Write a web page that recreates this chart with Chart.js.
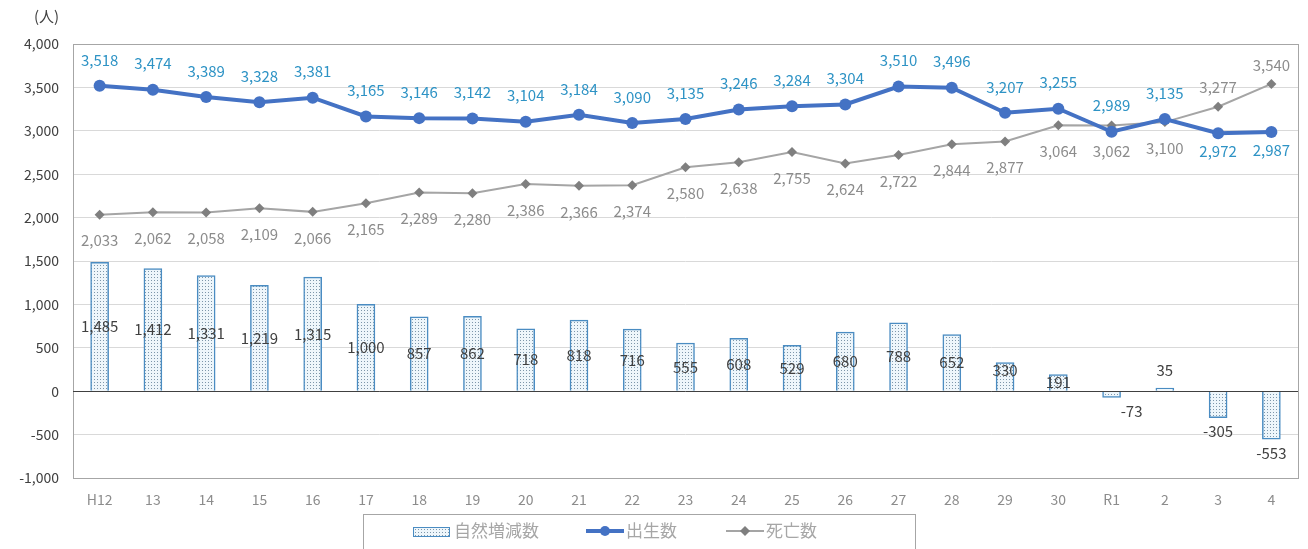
<!DOCTYPE html>
<html>
<head>
<meta charset="utf-8">
<script src="https://cdn.jsdelivr.net/npm/chart.js@4/dist/chart.umd.min.js"></script>
<style>
  html, body { margin: 0; padding: 0; background: #fff; }
  #wrap { width: 1308px; height: 549px; position: relative; }
</style>
</head>
<body>
<div id="wrap"><canvas id="chart"></canvas></div>
<script>
// 年度ラベル
const years = ['H12','13','14','15','16','17','18','19','20','21','22','23','24','25','26','27','28','29','30','R1','2','3','4'];
// 出生数
const births = [3518,3474,3389,3328,3381,3165,3146,3142,3104,3184,3090,3135,3246,3284,3304,3510,3496,3207,3255,2989,3135,2972,2987];
// 死亡数
const deaths = [2033,2062,2058,2109,2066,2165,2289,2280,2386,2366,2374,2580,2638,2755,2624,2722,2844,2877,3064,3062,3100,3277,3540];
// 自然増減数
const natural = [1485,1412,1331,1219,1315,1000,857,862,718,818,716,555,608,529,680,788,652,330,191,-73,35,-305,-553];

const FONT = "'Noto Sans CJK JP', 'Noto Sans', sans-serif";
const fmt = v => v.toLocaleString('en-US');

// dotted fill for the bars
function makePattern() {
    const c = document.createElement('canvas');
    c.width = 3; c.height = 3;
    const p = c.getContext('2d');
    p.fillStyle = '#eef6fb';
    p.fillRect(0, 0, 3, 3);
    p.fillStyle = '#7d96aa';
    p.fillRect(1, 1, 1, 1);
    return p.createPattern(c, 'repeat');
}
const pattern = makePattern();

// data labels
const labelPlugin = {
    id: 'labels',
    afterDatasetsDraw(chart) {
        const ctx = chart.ctx;
        ctx.save();
        ctx.font = '15px ' + FONT;
        ctx.textAlign = 'center';
        ctx.textBaseline = 'middle';

        // bars
        const barMeta = chart.getDatasetMeta(0);
        ctx.fillStyle = '#404040';
        barMeta.data.forEach((bar, i) => {
            const v = natural[i];
            let x = bar.x, y;
            if (v < 0) {
                y = bar.y + 14;
                if (v > -100) x += 20;
            } else if (v < 100) {
                y = bar.y - 18;
            } else if (v < 400) {
                y = bar.y + 8;
            } else {
                y = (bar.y + bar.base) / 2;
            }
            ctx.fillText(fmt(v), x, y);
        });

        // births
        const bMeta = chart.getDatasetMeta(1);
        ctx.fillStyle = '#2e93c5';
        bMeta.data.forEach((pt, i) => {
            const below = births[i] - deaths[i] < -100;
            ctx.fillText(fmt(births[i]), pt.x, below ? pt.y + 18 : pt.y - 26);
        });

        // deaths
        const dMeta = chart.getDatasetMeta(2);
        ctx.fillStyle = '#8c8c8c';
        dMeta.data.forEach((pt, i) => {
            const above = births[i] - deaths[i] < -100;
            ctx.fillText(fmt(deaths[i]), pt.x, above ? pt.y - 19 : pt.y + 26);
        });
        ctx.restore();
    },
    afterDraw(chart) {
        const ctx = chart.ctx;
        const a = chart.chartArea;
        ctx.save();
        // plot frame
        ctx.strokeStyle = '#a6a6a6';
        ctx.lineWidth = 1;
        ctx.strokeRect(a.left + 0.5, a.top + 0.5, a.right - a.left, a.bottom - a.top);
        // zero line
        const y0 = Math.round(chart.scales.y.getPixelForValue(0)) + 0.5;
        ctx.strokeStyle = '#404040';
        ctx.beginPath();
        ctx.moveTo(a.left, y0);
        ctx.lineTo(a.right, y0);
        ctx.stroke();

        // unit
        ctx.fillStyle = '#404040';
        ctx.font = '15px ' + FONT;
        ctx.textAlign = 'left';
        ctx.textBaseline = 'middle';
        ctx.fillText('(人)', 34, 16);

        // legend box
        ctx.strokeStyle = '#a6a6a6';
        ctx.strokeRect(363.5, 514.5, 552, 40);
        ctx.font = '17px ' + FONT;
        const ly = 531;
        // bar item
        ctx.fillStyle = pattern;
        ctx.fillRect(413, ly - 4, 36, 9);
        ctx.strokeStyle = '#4a8cc2';
        ctx.strokeRect(413.5, ly - 3.5, 36, 9);
        ctx.fillStyle = '#a6a6a6';
        ctx.fillText('自然増減数', 454, ly);
        // births item
        ctx.strokeStyle = '#4472c4';
        ctx.lineWidth = 4;
        ctx.beginPath(); ctx.moveTo(586, ly); ctx.lineTo(624, ly); ctx.stroke();
        ctx.fillStyle = '#4472c4';
        ctx.beginPath(); ctx.arc(605, ly, 5, 0, Math.PI * 2); ctx.fill();
        ctx.fillStyle = '#a6a6a6';
        ctx.fillText('出生数', 626, ly);
        // deaths item
        ctx.strokeStyle = '#a5a5a5';
        ctx.lineWidth = 2;
        ctx.beginPath(); ctx.moveTo(726, ly); ctx.lineTo(764, ly); ctx.stroke();
        ctx.fillStyle = '#7f7f7f';
        ctx.beginPath();
        ctx.moveTo(745, ly - 5); ctx.lineTo(750, ly); ctx.lineTo(745, ly + 5); ctx.lineTo(740, ly);
        ctx.closePath(); ctx.fill();
        ctx.fillStyle = '#a6a6a6';
        ctx.fillText('死亡数', 766, ly);
        ctx.restore();
    }
};

new Chart(document.getElementById('chart'), {
    type: 'bar',
    data: {
        labels: years,
        datasets: [
            {
                type: 'bar',
                label: '自然増減数',
                data: natural,
                backgroundColor: pattern,
                borderColor: '#4a8cc2',
                borderWidth: 1.5,
                barThickness: 18,
                order: 3
            },
            {
                type: 'line',
                label: '出生数',
                data: births,
                borderColor: '#4472c4',
                backgroundColor: '#4472c4',
                borderWidth: 4,
                pointRadius: 6,
                pointHoverRadius: 6,
                pointBorderWidth: 0,
                order: 1
            },
            {
                type: 'line',
                label: '死亡数',
                data: deaths,
                borderColor: '#a5a5a5',
                backgroundColor: '#7f7f7f',
                borderWidth: 2,
                pointStyle: 'rectRot',
                pointRadius: 5,
                pointHoverRadius: 5,
                pointBorderWidth: 0,
                order: 2
            }
        ]
    },
    options: {
        responsive: true,
        maintainAspectRatio: false,
        animation: false,
        layout: { padding: { top: 44, right: 10, left: 0, bottom: 0 } },
        plugins: {
            legend: { display: false },
            tooltip: { enabled: false }
        },
        scales: {
            x: {
                grid: { display: false },
                border: { display: false },
                ticks: { color: '#8c8c8c', font: { size: 14, family: FONT }, padding: 5 },
                afterFit: s => { s.height = 71; }
            },
            y: {
                min: -1000,
                max: 4000,
                grid: { color: '#d9d9d9', drawTicks: false },
                border: { display: false },
                ticks: {
                    stepSize: 500,
                    color: '#404040',
                    font: { size: 14, family: FONT },
                    padding: 14,
                    callback: v => fmt(v)
                },
                afterFit: s => { s.width = 73; }
            }
        }
    },
    plugins: [labelPlugin]
});
</script>
</body>
</html>
